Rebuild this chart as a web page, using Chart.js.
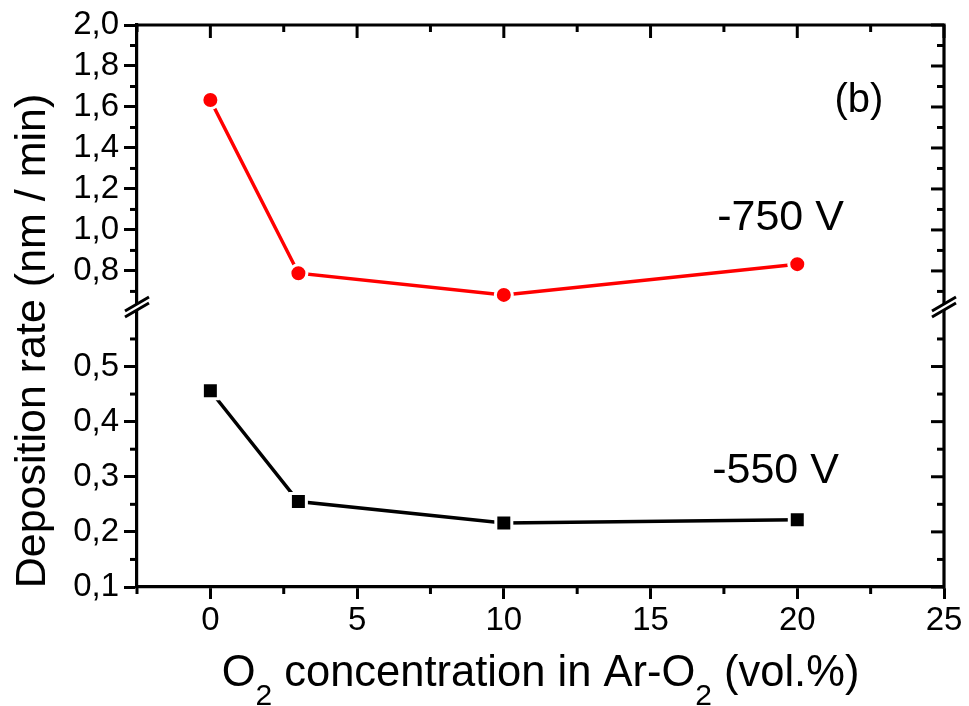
<!DOCTYPE html>
<html>
<head>
<meta charset="utf-8">
<script src="https://cdn.jsdelivr.net/npm/chart.js@4.4.1/dist/chart.umd.min.js"></script>
<style>
  html, body { margin: 0; padding: 0; background: #fff; }
</style>
</head>
<body>
<canvas id="chart" width="969" height="706"></canvas>
<script>
// O2 concentration (vol.%) and deposition rates (nm/min)
const o2Conc = [0, 3, 10, 20];
const rate750 = [1.634, 0.789, 0.683, 0.833];
const rate550 = [0.456, 0.255, 0.216, 0.222];

// tick values
const xTicks = [0, 5, 10, 15, 20, 25];
const xMinor = [-2.5, 2.5, 7.5, 12.5, 17.5, 22.5];
const yTopTicks = [0.8, 1.0, 1.2, 1.4, 1.6, 1.8, 2.0];
const yTopMinor = [0.7, 0.9, 1.1, 1.3, 1.5, 1.7, 1.9];
const yLowTicks = [0.1, 0.2, 0.3, 0.4, 0.5];
const yLowMinor = [0.15, 0.25, 0.35, 0.45, 0.55];

const FONT = 'Arial, "Liberation Sans", Helvetica, sans-serif';
const fmtComma = v => v.toFixed(1).replace('.', ',');

// draws the parts of a label, lowering the subscripts
function drawRich(ctx, parts, cx, baseline, size, subSize, subDrop) {
  const widths = parts.map(p => {
    ctx.font = `${p.sub ? subSize : size}px ${FONT}`;
    return ctx.measureText(p.t).width;
  });
  let x = cx - widths.reduce((a, b) => a + b, 0) / 2;
  ctx.textAlign = 'left';
  ctx.textBaseline = 'alphabetic';
  parts.forEach((p, i) => {
    ctx.font = `${p.sub ? subSize : size}px ${FONT}`;
    ctx.fillText(p.t, x, baseline + (p.sub ? subDrop : 0));
    x += widths[i];
  });
}

const framePlugin = {
  id: 'frame',
  afterDraw(chart) {
    const { ctx, chartArea: a, scales } = chart;
    const x = scales.x, yTop = scales.yTop, yLow = scales.yLow;
    const major = 13, minor = 7;
    ctx.save();
    ctx.strokeStyle = '#000';
    ctx.lineWidth = 3.2;
    ctx.lineCap = 'butt';

    // top and right sides of the box
    ctx.beginPath();
    ctx.moveTo(a.left - 1.5, a.top);
    ctx.lineTo(a.right, a.top);
    ctx.lineTo(a.right, a.bottom + 1.5);
    ctx.stroke();

    ctx.lineWidth = 3;
    const hTick = (px, y, len) => { ctx.beginPath(); ctx.moveTo(px, y); ctx.lineTo(px, y + len); ctx.stroke(); };
    const vTick = (py, x0, len) => { ctx.beginPath(); ctx.moveTo(x0, py); ctx.lineTo(x0 + len, py); ctx.stroke(); };

    // x minor ticks below, all x ticks mirrored on top
    xMinor.forEach(v => hTick(x.getPixelForValue(v), a.bottom, minor));
    xTicks.forEach(v => hTick(x.getPixelForValue(v), a.top, major));
    xMinor.forEach(v => hTick(x.getPixelForValue(v), a.top, minor));

    // y ticks: minor outward on the left, all mirrored inward on the right
    [[yTop, yTopTicks, yTopMinor], [yLow, yLowTicks, yLowMinor]].forEach(([s, maj, mins]) => {
      mins.forEach(v => vTick(s.getPixelForValue(v), a.left, -minor));
      maj.forEach(v => vTick(s.getPixelForValue(v), a.right, -major));
      mins.forEach(v => vTick(s.getPixelForValue(v), a.right, -minor));
    });

    // axis breaks
    const by = (yTop.bottom + yLow.top) / 2;
    [a.left, a.right].forEach(bx => {
      ctx.fillStyle = '#fff';
      ctx.beginPath();
      ctx.moveTo(bx - 12, by + 10); ctx.lineTo(bx + 12, by - 4);
      ctx.lineTo(bx + 12, by - 10); ctx.lineTo(bx - 12, by + 4);
      ctx.closePath();
      ctx.fill();
      ctx.lineWidth = 3;
      ctx.beginPath();
      ctx.moveTo(bx - 12, by + 10); ctx.lineTo(bx + 12, by - 4);
      ctx.moveTo(bx - 12, by + 4); ctx.lineTo(bx + 12, by - 10);
      ctx.stroke();
    });

    ctx.fillStyle = '#000';
    // axis titles
    drawRich(ctx, [
      { t: 'O' }, { t: '2', sub: true }, { t: ' concentration in Ar-O' },
      { t: '2', sub: true }, { t: ' (vol.%)' }
    ], (a.left + a.right) / 2, 686, 43.5, 30, 19);

    ctx.save();
    ctx.translate(45, 341);
    ctx.rotate(-Math.PI / 2);
    ctx.font = `43px ${FONT}`;
    ctx.textAlign = 'center';
    ctx.textBaseline = 'alphabetic';
    ctx.fillText('Deposition rate (nm / min)', 0, 0);
    ctx.restore();

    // series labels and panel letter
    ctx.font = `43px ${FONT}`;
    ctx.textAlign = 'left';
    ctx.textBaseline = 'alphabetic';
    ctx.fillText('-750 V', x.getPixelForValue(17.27), yTop.getPixelForValue(1.0));
    ctx.fillText('-550 V', x.getPixelForValue(17.1), yLow.getPixelForValue(0.289));
    ctx.font = `40px ${FONT}`;
    ctx.textAlign = 'center';
    ctx.textBaseline = 'middle';
    ctx.fillText('(b)', x.getPixelForValue(22.1), yTop.getPixelForValue(1.63));
    ctx.restore();
  }
};

const tickFont = { family: FONT, size: 33 };
const axisGrid = { display: true, drawOnChartArea: false, drawTicks: true, tickLength: 13, tickWidth: 3, tickColor: '#000' };
const axisBorder = { display: true, width: 3.2, color: '#000' };

new Chart(document.getElementById('chart'), {
  type: 'line',
  data: {
    datasets: [
      {
        label: '-750 V',
        data: o2Conc.map((v, i) => ({ x: v, y: rate750[i] })),
        yAxisID: 'yTop',
        borderColor: '#ff0000',
        borderWidth: 3.5,
        pointStyle: 'circle',
        pointRadius: 8.5,
        pointBackgroundColor: '#ff0000',
        pointBorderColor: '#fff',
        pointBorderWidth: 3,
        tension: 0
      },
      {
        label: '-550 V',
        data: o2Conc.map((v, i) => ({ x: v, y: rate550[i] })),
        yAxisID: 'yLow',
        borderColor: '#000',
        borderWidth: 3.5,
        pointStyle: 'rect',
        pointRadius: 11.3,
        pointBackgroundColor: '#000',
        pointBorderColor: '#fff',
        pointBorderWidth: 3,
        tension: 0
      }
    ]
  },
  options: {
    responsive: false,
    animation: false,
    layout: { padding: { top: 25, right: 25, left: 0, bottom: 0 } },
    plugins: { legend: { display: false }, tooltip: { enabled: false } },
    scales: {
      x: {
        type: 'linear',
        min: -2.5, max: 25,
        afterBuildTicks: s => { s.ticks = xTicks.map(v => ({ value: v })); },
        afterFit: s => { s.height = 119; },
        grid: { ...axisGrid, tickLength: 12 },
        border: axisBorder,
        ticks: { color: '#000', font: tickFont, padding: 2, maxRotation: 0, autoSkip: false, callback: v => String(v) }
      },
      yLow: {
        type: 'linear',
        position: 'left',
        stack: 'y',
        stackWeight: 280,
        min: 0.1, max: 0.608,
        afterBuildTicks: s => { s.ticks = yLowTicks.map(v => ({ value: v })); },
        afterFit: s => { s.width = 137; },
        grid: axisGrid,
        border: axisBorder,
        ticks: { color: '#000', font: tickFont, padding: 5, autoSkip: false, callback: v => fmtComma(v) }
      },
      yTop: {
        type: 'linear',
        position: 'left',
        stack: 'y',
        stackWeight: 282,
        min: 0.624, max: 2.0,
        afterBuildTicks: s => { s.ticks = yTopTicks.map(v => ({ value: v })); },
        afterFit: s => { s.width = 137; },
        grid: axisGrid,
        border: axisBorder,
        ticks: { color: '#000', font: tickFont, padding: 5, autoSkip: false, callback: v => fmtComma(v) }
      }
    }
  },
  plugins: [framePlugin]
});
</script>
</body>
</html>
